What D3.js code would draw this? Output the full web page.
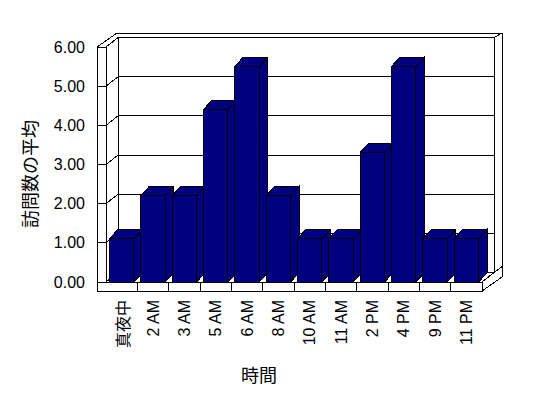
<!DOCTYPE html>
<html>
<head>
<meta charset="utf-8">
<script src="https://cdn.jsdelivr.net/npm/d3@7"></script>
<style>
  body { margin: 0; background: #fff; }
  svg { display: block; }
</style>
</head>
<body>
<svg id="chart" width="548" height="398"></svg>
<script>
const categories = ["真夜中", "2 AM", "3 AM", "5 AM", "6 AM", "8 AM", "10 AM", "11 AM", "2 PM", "4 PM", "9 PM", "11 PM"];
const visits = [1.1, 2.2, 2.2, 4.4, 5.5, 2.2, 1.1, 1.1, 3.3, 5.5, 1.1, 1.1];
const yTicks = [0, 1, 2, 3, 4, 5, 6];

const svg = d3.select("#chart");
const g = svg.append("g").attr("shape-rendering", "crispEdges");

// front plane geometry
const wallL = 97, wallR = 106, floorR = 482, floorB = 291;
const depth = [12, -9.4];      // front -> back wall face
const outer = [20, -14];       // front -> back of back wall
const barDepth = [8.4, -9.3];

const x = d3.scaleBand()
  .domain(categories)
  .range([wallR, floorR])
  .paddingInner(0.215)
  .paddingOuter(0.1075);

const y = d3.scaleLinear().domain([0, 6]).range([282, 47]);

const y0 = y(0), yTop = y(6);
const line = d3.line();
const seg = (pts) => g.append("path")
  .attr("d", line(pts))
  .attr("fill", "none")
  .attr("stroke", "#000")
  .attr("stroke-width", 1);

// gridlines on left wall + back wall
yTicks.filter(v => v > 0 && v < 6).forEach(v => {
  seg([[wallL, y(v)], [wallR, y(v)], [wallR + depth[0], y(v) + depth[1]], [floorR + depth[0], y(v) + depth[1]]]);
});

// back wall
seg([[wallR + depth[0], yTop + depth[1]], [floorR + depth[0], yTop + depth[1]]]);
seg([[wallR + depth[0], yTop + depth[1]], [wallR + depth[0], y0 + depth[1]]]);
seg([[floorR + depth[0], yTop + depth[1]], [floorR + depth[0], y0 + depth[1]]]);
seg([[wallL + outer[0], yTop + outer[1]], [floorR + outer[0], yTop + outer[1]]]);
seg([[floorR + depth[0], yTop + depth[1]], [floorR + outer[0], yTop + outer[1]]]);
seg([[floorR + outer[0], yTop + outer[1]], [floorR + outer[0], floorB + outer[1]]]);
seg([[floorR + depth[0], y0 + depth[1]], [floorR + outer[0], y0 + depth[1] - 6]]);

// left wall
seg([[wallL, yTop], [wallR, yTop]]);
seg([[wallL, yTop], [wallL, floorB]]);
seg([[wallR, yTop], [wallR, y0]]);
seg([[wallL, yTop], [wallL + outer[0], yTop + outer[1]]]);
seg([[wallR, yTop], [wallR + depth[0], yTop + depth[1]]]);

// floor
seg([[wallR, y0], [wallR + depth[0], y0 + depth[1]], [floorR + depth[0], y0 + depth[1]]]);
seg([[wallL, y0], [floorR, y0], [floorR, floorB], [wallL, floorB]]);
seg([[floorR, y0], [floorR + depth[0], y0 + depth[1]]]);
seg([[floorR, floorB], [floorR + outer[0], floorB + outer[1]]]);
categories.slice(1).forEach(c => {
  const xd = x(c) - x.step() * x.paddingInner() / 2;
  seg([[xd, y0], [xd, floorB]]);
});

// bars, left to right so each front face hides the previous side
const bars = categories.map((c, i) => ({ c, v: visits[i] }));
bars.forEach(d => {
  const x0 = x(d.c), x1 = x(d.c) + x.bandwidth(), yv = y(d.v);
  const [bx, by] = barDepth;
  const faces = [
    [[x1, yv], [x1 + bx, yv + by], [x1 + bx, y0 + by], [x1, y0]],
    [[x0, yv], [x1, yv], [x1 + bx, yv + by], [x0 + bx, yv + by]],
    [[x0, yv], [x1, yv], [x1, y0], [x0, y0]]
  ];
  faces.forEach(f => {
    g.append("path")
      .attr("d", line(f) + "Z")
      .attr("fill", "#000080")
      .attr("stroke", "#000")
      .attr("stroke-width", 1);
  });
});

// y axis labels
const yAxis = svg.append("g")
  .attr("transform", `translate(${wallL},0)`)
  .call(d3.axisLeft(y).tickValues(yTicks).tickFormat(d3.format(".2f")).tickSize(0).tickPadding(12));
yAxis.select(".domain").remove();
yAxis.selectAll("text")
  .attr("font-family", "Liberation Sans, Arial, sans-serif")
  .attr("font-size", 16)
  .attr("fill", "#000");

// category labels
svg.append("g").selectAll("text")
  .data(categories)
  .join("text")
  .attr("transform", d => `translate(${x(d) + x.bandwidth() / 2},300) rotate(-90)`)
  .attr("text-anchor", "end")
  .attr("dominant-baseline", "central")
  .attr("font-family", d => /[A-Z0-9]/.test(d) ? "Liberation Sans, sans-serif" : "'Noto Sans CJK JP', sans-serif")
  .attr("font-size", 16)
  .attr("fill", "#000")
  .text(d => d);

// axis titles
svg.append("text")
  .attr("transform", "translate(29,174) rotate(-90)")
  .attr("text-anchor", "middle")
  .attr("dominant-baseline", "central")
  .attr("font-family", "'Noto Sans CJK JP', sans-serif")
  .attr("font-size", 18)
  .attr("fill", "#000")
  .text("訪問数の平均");

svg.append("text")
  .attr("x", 259)
  .attr("y", 374)
  .attr("text-anchor", "middle")
  .attr("dominant-baseline", "central")
  .attr("font-family", "'Noto Sans CJK JP', sans-serif")
  .attr("font-size", 18)
  .attr("fill", "#000")
  .text("時間");
</script>
</body>
</html>
